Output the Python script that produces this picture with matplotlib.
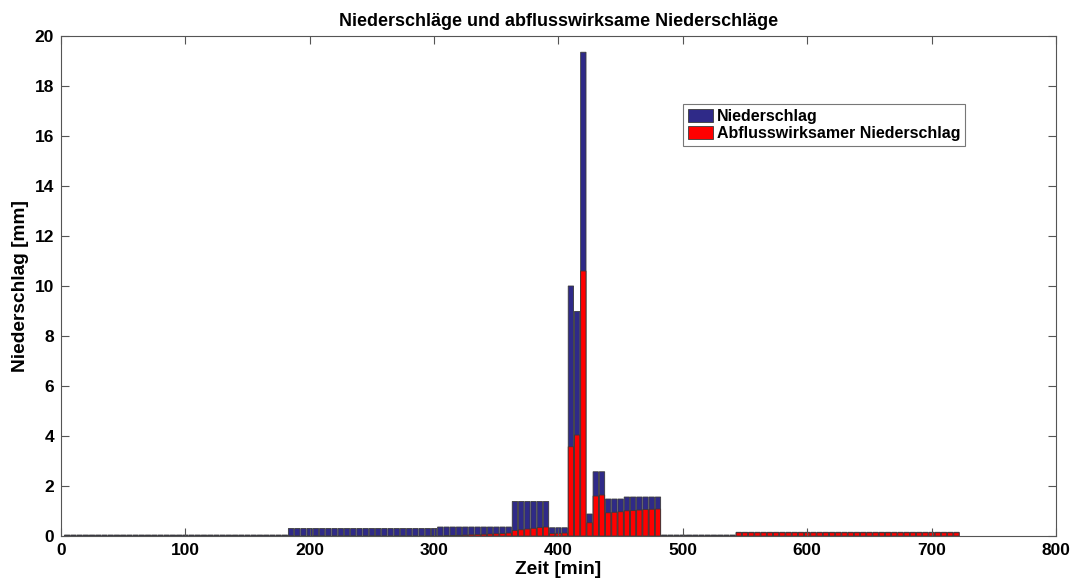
import numpy as np
import matplotlib
matplotlib.use('Agg')
import matplotlib.pyplot as plt

plt.rcParams['font.family'] = ['Liberation Sans', 'DejaVu Sans']

# Zeitschritte (5 min)
zeit = np.arange(5, 725, 5)

# Niederschlag [mm]
niederschlag = ([0.04] * 36 + [0.3] * 24 + [0.36] * 12 + [1.38] * 6 + [0.33] * 3
                + [10.0, 8.98, 19.35, 0.88, 2.57, 2.57]
                + [1.48] * 3 + [1.56] * 6
                + [0.04] * 12 + [0.15] * 36)

# abflusswirksamer Niederschlag [mm]
abfluss = ([0.0] * 36 + [0.0] * 24
           + [0.0, 0.01, 0.02, 0.03, 0.04, 0.05, 0.06, 0.07, 0.08, 0.09, 0.1, 0.12]
           + [0.22, 0.25, 0.28, 0.31, 0.34, 0.36]
           + [0.1, 0.11, 0.12]
           + [3.57, 4.04, 10.6, 0.53, 1.6, 1.64]
           + [0.93, 0.95, 0.97]
           + [1.01, 1.02, 1.04, 1.06, 1.07, 1.08]
           + [0.0] * 12 + [0.13] * 36)


def main():
    fig = plt.figure(figsize=(10.75, 5.88), dpi=100)
    ax = fig.add_axes([0.0567, 0.0884, 0.9256, 0.8504])

    b1 = ax.bar(zeit, niederschlag, width=4.3, color='#2f2a88', edgecolor='#3a3a3a',
                linewidth=0.6, label='Niederschlag')
    b2 = ax.bar(zeit, abfluss, width=4.3, color='#ff0000', edgecolor='#3a3a3a',
                linewidth=0.6, label='Abflusswirksamer Niederschlag')
    for p in list(b1) + list(b2):
        p.set_snap(False)

    ax.set_xlim(0, 800)
    ax.set_ylim(0, 20)
    ax.set_xticks(range(0, 801, 100))
    ax.set_yticks(range(0, 21, 2))

    # Titel und Achsenbeschriftung
    ax.set_title('Niederschläge und abflusswirksame Niederschläge', fontsize=13,
                 fontweight='bold', pad=7)
    ax.set_xlabel('Zeit [min]', fontsize=13.8, fontweight='bold', labelpad=2)
    ax.set_ylabel('Niederschlag [mm]', fontsize=13.8, fontweight='bold', labelpad=4)

    ax.tick_params(axis='both', direction='in', top=True, right=True, length=6,
                   width=0.8, color='#555555', labelsize=12.5, pad=5)
    for lab in ax.get_xticklabels() + ax.get_yticklabels():
        lab.set_fontweight('bold')
    for sp in ax.spines.values():
        sp.set_color('#555555')
        sp.set_linewidth(0.8)

    leg = ax.legend(loc='upper left', bbox_to_anchor=(0.625, 0.864), fontsize=11.5,
                    frameon=True, fancybox=False, edgecolor='#555555',
                    borderpad=0.3, labelspacing=0.15, handlelength=1.6,
                    handleheight=0.85, handletextpad=0.25, borderaxespad=0)
    leg.get_frame().set_linewidth(0.8)
    for t in leg.get_texts():
        t.set_fontweight('bold')

    fig.savefig('out.png', dpi=100)


if __name__ == '__main__':
    main()
